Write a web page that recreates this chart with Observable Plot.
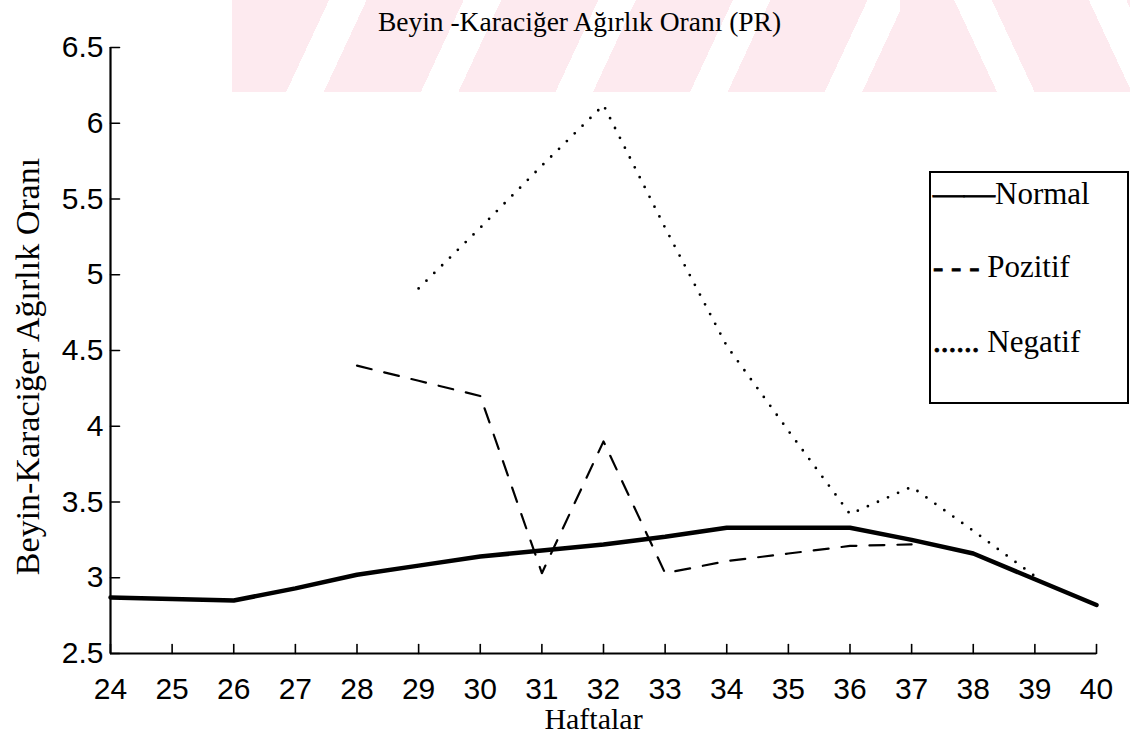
<!DOCTYPE html>
<html>
<head>
<meta charset="utf-8">
<script src="https://cdn.jsdelivr.net/npm/d3@7"></script>
<script src="https://cdn.jsdelivr.net/npm/@observablehq/plot@0.6"></script>
<style>
  html, body { margin: 0; padding: 0; background: #fff; }
  #wrap { position: relative; width: 1130px; height: 736px; overflow: hidden; background: #fff; }
  .wm { position: absolute; top: 0; height: 92px; }
  #wmL { left: 232px; width: 668px; background: repeating-linear-gradient(115deg, #fdeaef 0 88px, #ffffff 88px 122px); }
  #wmR { left: 900px; width: 230px; background: repeating-linear-gradient(65deg, #fdeaef 0 88px, #ffffff 88px 122px); }
  #chart { position: absolute; left: 0; top: 0; }
  #legend {
    position: absolute; left: 929px; top: 171px; width: 200px; height: 233px;
    border: 2px solid #000; box-sizing: border-box; background: #fff;
    font-family: 'Liberation Serif', 'Times New Roman', serif; font-size: 31px; line-height: 32px; color: #000;
  }
  #legend div { position: absolute; left: 2px; white-space: pre; }
  #legend .sample { -webkit-text-stroke: 0.9px #000; }
</style>
</head>
<body>
<div id="wrap">
  <div class="wm" id="wmL"></div>
  <div class="wm" id="wmR"></div>
  <div id="chart"></div>
  <div id="legend"></div>
</div>
<script>
// ---- data ----
const weeks = [24, 25, 26, 27, 28, 29, 30, 31, 32, 33, 34, 35, 36, 37, 38, 39, 40];
const normalValues = [2.87, 2.86, 2.85, 2.93, 3.02, 3.08, 3.14, 3.18, 3.22, 3.27, 3.33, 3.33, 3.33, 3.25, 3.16, 2.99, 2.82];

const pozitifWeeks = [28, 29, 30, 31, 32, 33, 34, 35, 36, 37];
const pozitifValues = [4.40, 4.30, 4.20, 3.03, 3.90, 3.03, 3.11, 3.16, 3.21, 3.22];

const negatifWeeks = [29, 30, 31, 32, 33, 34, 35, 36, 37, 38, 39];
const negatifValues = [4.91, 5.31, 5.72, 6.12, 5.31, 4.53, 3.97, 3.42, 3.60, 3.31, 3.01];

const xTicks = [24, 25, 26, 27, 28, 29, 30, 31, 32, 33, 34, 35, 36, 37, 38, 39, 40];
const yTicks = [2.5, 3, 3.5, 4, 4.5, 5, 5.5, 6, 6.5];

const titleText = "Beyin -Karaciğer Ağırlık Oranı (PR)";
const xLabel = "Haftalar";
const yLabel = "Beyin-Karaciğer Ağırlık Oranı";
const legendSamples = ["——", "- - - ", "...... "];
const legendNames = ["Normal", "Pozitif", "Negatif"];

// ---- build tables ----
const normalData = weeks.map((w, i) => ({week: w, value: normalValues[i]}));
const pozitifData = pozitifWeeks.map((w, i) => ({week: w, value: pozitifValues[i]}));
const negatifData = negatifWeeks.map((w, i) => ({week: w, value: negatifValues[i]}));

const serif = "'Liberation Serif','Times New Roman',serif";
const sans = "'Liberation Sans',Arial,Helvetica,sans-serif";

// straight tick shape for Plot.vector (inward ticks, MATLAB style)
const tickShape = {draw(context, l) { context.moveTo(0, 0); context.lineTo(0, -l); }};

const chart = Plot.plot({
  width: 1130,
  height: 736,
  marginLeft: 110,
  marginRight: 34,
  marginTop: 47,
  marginBottom: 83,
  style: {background: "transparent", fontFamily: sans, color: "#000", overflow: "visible"},
  x: {domain: [24, 40], label: null},
  y: {domain: [2.5, 6.5], label: null},
  marks: [
    Plot.axisX(xTicks, {tickSize: 0, tickPadding: 24, fontSize: 30, fontFamily: sans, label: null, tickFormat: d => String(d)}),
    Plot.axisY(yTicks, {tickSize: 0, tickPadding: 7, fontSize: 30, fontFamily: sans, label: null, tickFormat: d => String(d)}),
    Plot.vector(xTicks, {x: d => d, y: yTicks[0], length: 9, rotate: 0, anchor: "start", shape: tickShape, stroke: "#000", strokeWidth: 1.6}),
    Plot.vector(yTicks, {x: xTicks[0], y: d => d, length: 9, rotate: 90, anchor: "start", shape: tickShape, stroke: "#000", strokeWidth: 1.6}),
    Plot.ruleX([24], {stroke: "#000", strokeWidth: 2.2}),
    Plot.ruleY([2.5], {stroke: "#000", strokeWidth: 2.2}),
    Plot.line(normalData, {x: "week", y: "value", stroke: "#000", strokeWidth: 4.5, strokeLinejoin: "round"}),
    Plot.line(pozitifData, {x: "week", y: "value", stroke: "#000", strokeWidth: 2.2, strokeDasharray: "15,13"}),
    Plot.line(negatifData, {x: "week", y: "value", stroke: "#000", strokeWidth: 2.8, strokeDasharray: "0,11", strokeLinecap: "round"}),
    Plot.text([titleText], {frameAnchor: "top", dx: -24, dy: -17, lineAnchor: "bottom", fontSize: 27.5, fontFamily: serif, fill: "#000"}),
    Plot.text([xLabel], {frameAnchor: "bottom", dx: -10, dy: 75, lineAnchor: "bottom", fontSize: 30, fontFamily: serif, fill: "#000"}),
    Plot.text([yLabel], {frameAnchor: "left", textAnchor: "middle", rotate: -90, dx: -82, dy: 16, fontSize: 34, fontFamily: serif, fill: "#000"})
  ]
});
document.getElementById("chart").appendChild(chart);

const legend = document.getElementById("legend");
const legendTops = [5, 78, 153];
legendNames.forEach((name, i) => {
  const d = document.createElement("div");
  const s = document.createElement("span");
  s.className = "sample";
  s.textContent = legendSamples[i];
  d.appendChild(s);
  d.appendChild(document.createTextNode(name));
  d.style.top = legendTops[i] + "px";
  legend.appendChild(d);
});
</script>
</body>
</html>
